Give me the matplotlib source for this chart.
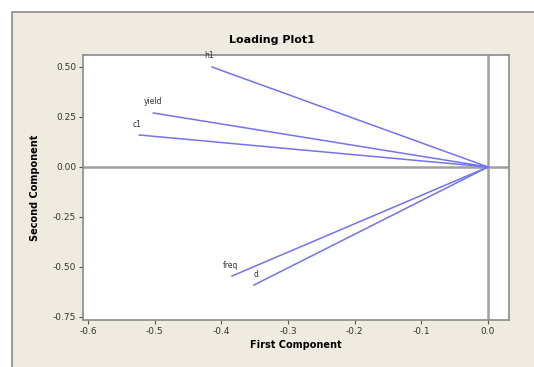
import matplotlib
matplotlib.use("Agg")
import matplotlib.pyplot as plt
from matplotlib.patches import Rectangle

# loadings on the first two components
variables = ["h1", "yield", "c1", "freq", "d"]
first_comp = [-0.414, -0.502, -0.523, -0.384, -0.351]
second_comp = [0.50, 0.27, 0.16, -0.545, -0.59]

xticks = [-0.6, -0.5, -0.4, -0.3, -0.2, -0.1, 0.0]
yticks = [-0.75, -0.50, -0.25, 0.00, 0.25, 0.50]

plt.rcParams['font.family'] = ['DejaVu Sans']

fig = plt.figure(figsize=(5.34, 3.67), dpi=100)
fig.patch.set_facecolor("white")
fig.patches.append(Rectangle((12 / 534, -0.01), 1.0, 1 - 12 / 367 + 0.01,
                             transform=fig.transFigure, facecolor="#efebe1",
                             edgecolor="#8a8a8a", linewidth=1.2, zorder=-1))

ax = fig.add_axes([83 / 534, 1 - 320 / 367, 426 / 534, 265 / 367])
ax.set_zorder(1)
ax.set_facecolor("white")

ax.axhline(0, color="#a0a0a0", linewidth=1.8, zorder=1)
ax.axvline(0, color="#a0a0a0", linewidth=1.8, zorder=1)

for name, x, y in zip(variables, first_comp, second_comp):
    ax.plot([0, x], [0, y], color="#7272f2", linewidth=1.1, zorder=2)

# label offsets (data units) so the names sit just above the line ends
offsets = {"h1": (-0.005, 0.035), "yield": (0.0, 0.035), "c1": (-0.003, 0.03),
           "freq": (-0.002, 0.03), "d": (0.003, 0.03)}
for name, x, y in zip(variables, first_comp, second_comp):
    dx, dy = offsets[name]
    ax.text(x + dx, y + dy, name, fontsize=5.5, color="#333333",
            ha="center", va="bottom")

ax.set_xlim(-0.6075, 0.0315)
ax.set_ylim(-0.765, 0.56)
ax.set_xticks(xticks)
ax.set_xticklabels([f"{t:.1f}" for t in xticks])
ax.set_yticks(yticks)
ax.set_yticklabels([f"{t:.2f}" for t in yticks])
ax.tick_params(labelsize=6.5, length=3, width=0.8, color="#555555",
               labelcolor="#333333", pad=2)
for s in ax.spines.values():
    s.set_color("#8a8a8a")
    s.set_linewidth(1.2)

ax.set_xlabel("First Component", fontsize=7, fontweight="bold", labelpad=3)
ax.set_ylabel("Second Component", fontsize=7, fontweight="bold", labelpad=9)
fig.text(272 / 534, 1 - 40 / 367, "Loading Plot1", fontsize=8,
         fontweight="bold", ha="center", va="center")

fig.savefig("out.png", dpi=100, facecolor=fig.get_facecolor())
